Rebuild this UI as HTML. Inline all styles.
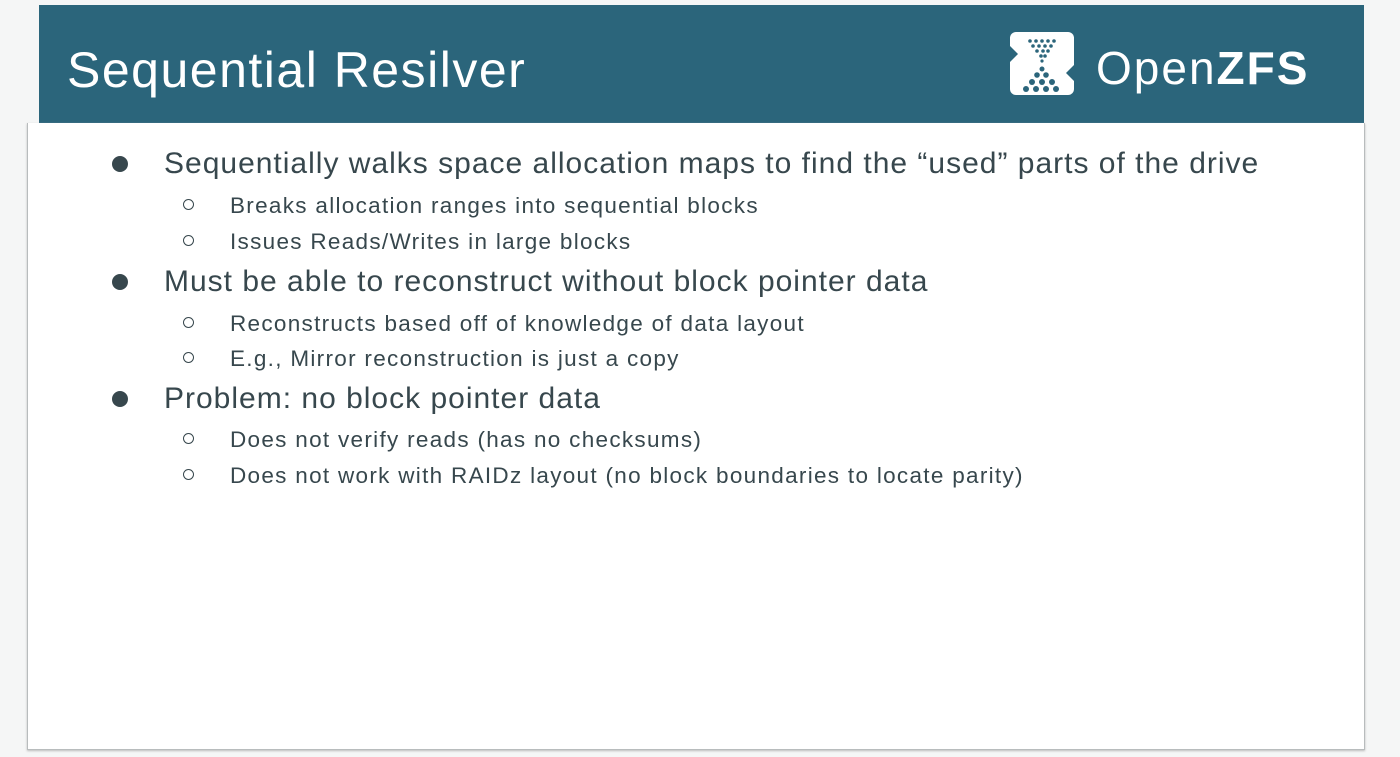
<!DOCTYPE html>
<html><head><meta charset="utf-8"><style>
html,body{margin:0;padding:0;width:1400px;height:757px;background:#f5f6f6;overflow:hidden;font-family:"Liberation Sans",sans-serif;}
.hdr{position:absolute;left:39px;top:5px;width:1325px;height:118px;background:#2b657b;}
.title{position:absolute;left:67px;top:38px;font-size:50px;color:#fff;line-height:64px;white-space:nowrap;letter-spacing:1.5px}
.box{position:absolute;left:27px;top:123px;width:1336px;height:626px;background:#fff;border:1px solid #b8bcbd;border-top:none;box-shadow:0 1px 2px #bbb;}
.t{position:absolute;color:#37474d;white-space:nowrap;}
.l1{font-size:30px;left:164px;letter-spacing:1px}
.l2{font-size:22.5px;left:230px;letter-spacing:1.3px}
.b1{position:absolute;left:112px;width:16px;height:16px;border-radius:50%;background:#37474d}
.b2{position:absolute;left:183px;width:9px;height:9px;border-radius:50%;border:1.5px solid #37474d}
.logo{position:absolute;left:1010px;top:32px;width:64px;height:63px;background:#fff;border-radius:6px;}
.ot{position:absolute;left:1096px;top:40px;font-size:46px;color:#fff;line-height:56px;white-space:nowrap;letter-spacing:2px}
</style></head><body>
<div class="hdr"></div>
<div class="title">Sequential Resilver</div>
<div class="logo"><svg width="64" height="63" viewBox="0 0 64 63">
<polygon points="0,14 8,22 0,30" fill="#2b657b"/><polygon points="64,33 56,41 64,49" fill="#2b657b"/>
<g fill="#2b657b">
<circle cx="20" cy="9" r="1.8"/><circle cx="26" cy="9" r="1.8"/><circle cx="32" cy="9" r="1.8"/><circle cx="38" cy="9" r="1.8"/><circle cx="44" cy="9" r="1.8"/>
<circle cx="23" cy="14" r="1.8"/><circle cx="29" cy="14" r="1.8"/><circle cx="35" cy="14" r="1.8"/><circle cx="41" cy="14" r="1.8"/>
<circle cx="27" cy="19" r="1.8"/><circle cx="33" cy="19" r="1.8"/><circle cx="38" cy="19" r="1.8"/>
<circle cx="31" cy="24" r="1.8"/><circle cx="35" cy="24" r="1.8"/><circle cx="32" cy="29" r="1.6"/>
<circle cx="32" cy="37" r="2.5"/><circle cx="27" cy="43" r="2.8"/><circle cx="36" cy="43" r="2.8"/>
<circle cx="22" cy="50" r="3"/><circle cx="32" cy="50" r="3"/><circle cx="42" cy="50" r="3"/>
<circle cx="16" cy="57" r="3"/><circle cx="26" cy="57" r="3"/><circle cx="36" cy="57" r="3"/><circle cx="46" cy="57" r="3"/>
</g></svg></div>
<div class="ot">Open<b>ZFS</b></div>
<div class="box"></div>
<div class="b1" style="top:156px"></div><div class="t l1" style="top:147px">Sequentially walks space allocation maps to find the “used” parts of the drive</div>
<div class="b2" style="top:199px"></div><div class="t l2" style="top:193px">Breaks allocation ranges into sequential blocks</div>
<div class="b2" style="top:235px"></div><div class="t l2" style="top:229px">Issues Reads/Writes in large blocks</div>
<div class="b1" style="top:274px"></div><div class="t l1" style="top:265px">Must be able to reconstruct without block pointer data</div>
<div class="b2" style="top:317px"></div><div class="t l2" style="top:311px">Reconstructs based off of knowledge of data layout</div>
<div class="b2" style="top:352px"></div><div class="t l2" style="top:346px">E.g., Mirror reconstruction is just a copy</div>
<div class="b1" style="top:391px"></div><div class="t l1" style="top:382px">Problem: no block pointer data</div>
<div class="b2" style="top:433px"></div><div class="t l2" style="top:427px">Does not verify reads (has no checksums)</div>
<div class="b2" style="top:469px"></div><div class="t l2" style="top:463px">Does not work with RAIDz layout (no block boundaries to locate parity)</div>
</body></html>
